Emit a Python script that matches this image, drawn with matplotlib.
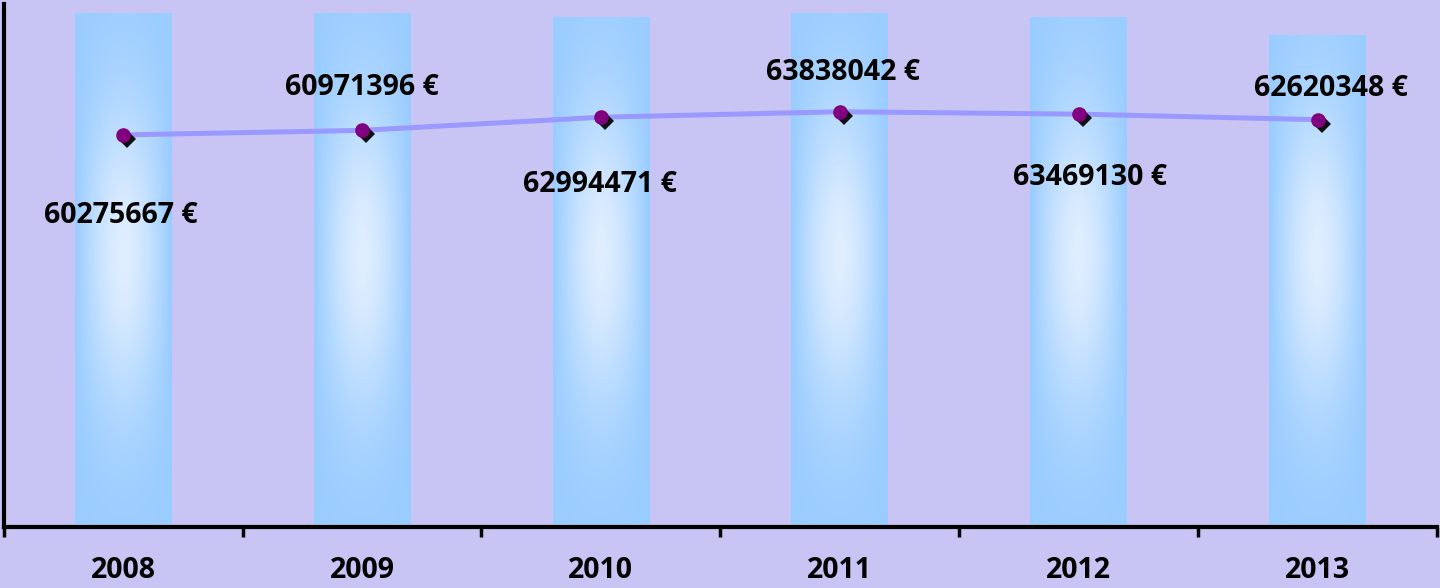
import numpy as np
import matplotlib
matplotlib.use("Agg")
import matplotlib.pyplot as plt
import matplotlib.transforms as mtransforms

# ---- data ----
years = ["2008", "2009", "2010", "2011", "2012", "2013"]
line_values = [60275667, 60971396, 62994471, 63838042, 63469130, 62620348]
bar_values = [78900000, 78900000, 78300000, 79000000, 78300000, 75500000]
value_labels = ["60275667 €", "60971396 €", "62994471 €", "63838042 €", "63469130 €", "62620348 €"]

# label offsets (pixels relative to point), layout only
label_offsets = [(-2, -81), (0, 43), (-1, -67), (3, 39), (11, -63), (13, 31)]

BG = "#C8C4F4"
BAR = np.array([0x99, 0xCC, 0xFF]) / 255.0
LIGHT = np.array([0xE0, 0xEE, 0xFF]) / 255.0

plt.rcParams['font.family'] = ['Open Sans', 'DejaVu Sans']

fig = plt.figure(figsize=(14.4, 5.88), dpi=100, facecolor=BG)
ax = fig.add_axes([0.0025, 0.1037, 0.9955, 0.8895])
ax.set_facecolor(BG)

x = np.arange(len(years))
ymax = 80.4e6
ax.set_xlim(-0.5, len(years) - 0.5)
ax.set_ylim(0, ymax)

# gradient bars
bw = 0.405
ny, nx = 300, 60
xs = np.linspace(-1, 1, nx)
for xi, bv in zip(x, bar_values):
    ys = np.linspace(0, bv, ny)
    yn = ys / ymax
    X, Y = np.meshgrid(xs, yn)
    horiz = np.clip(1 - np.abs(X) ** 1.6, 0, 1)
    vert = np.exp(-((Y - 0.52) / 0.30) ** 2)
    w = np.clip(horiz * vert, 0, 1)
    img = BAR[None, None, :] + (LIGHT - BAR)[None, None, :] * w[:, :, None]
    ax.imshow(img, extent=[xi - bw / 2, xi + bw / 2, 0, bv], origin="lower",
              aspect="auto", interpolation="bilinear", zorder=1)

# line
ax.plot(x, line_values, color="#9999FF", lw=3.6, zorder=3, solid_capstyle="round")
# marker shadow
shadow = mtransforms.offset_copy(ax.transData, fig=fig, x=4, y=-4, units="dots")
ax.plot(x, line_values, linestyle="none", marker="D", markersize=9,
        color="#111111", markeredgewidth=0, transform=shadow, zorder=4)
ax.plot(x, line_values, linestyle="none", marker="o", markersize=10.5,
        color="#800080", markeredgewidth=0, zorder=5)

for xi, v, lab, (dx, dy) in zip(x, line_values, value_labels, label_offsets):
    ax.annotate(lab, (xi, v), xytext=(dx, dy), textcoords="offset pixels",
                ha="center", va="center", fontsize=20.5, fontweight="bold",
                color="black", zorder=6)

# axes styling
for s in ["top", "right"]:
    ax.spines[s].set_visible(False)
ax.spines["left"].set_linewidth(3)
ax.spines["bottom"].set_linewidth(3)
ax.set_yticks([])
ax.set_xticks(x)
ax.set_xticklabels(years, fontsize=20.5, fontweight="bold")
ax.tick_params(axis="x", which="major", length=0, pad=21)
ax.set_xticks(np.arange(-0.5, len(years)), minor=True)
ax.tick_params(axis="x", which="minor", length=7, width=2.5, direction="out", color="black")

fig.savefig("out.png", dpi=100, facecolor=BG)
